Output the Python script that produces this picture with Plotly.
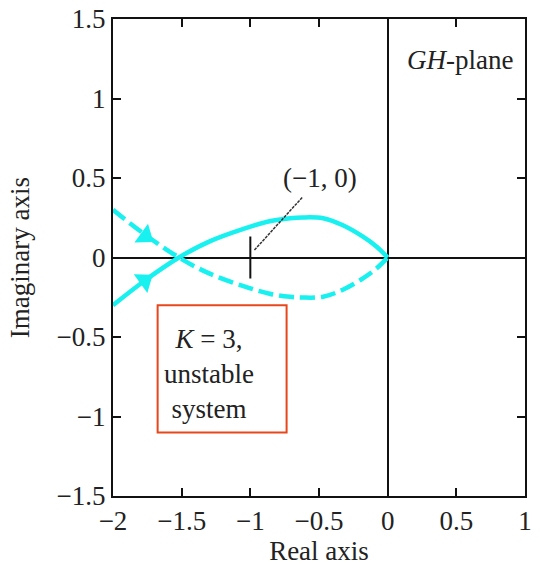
import plotly.graph_objects as go

# Nyquist locus (upper branch, solid)
solid_x = [-2.0, -1.77, -1.52, -1.30, -1.05, -0.86, -0.71, -0.62, -0.47, -0.33, -0.18, -0.08, 0.0]
solid_y = [-0.30, -0.146, 0.0, 0.10, 0.18, 0.228, 0.247, 0.252, 0.247, 0.204, 0.131, 0.068, 0.0]
# mirror branch (dashed)
dash_x = solid_x
dash_y = [-v for v in solid_y]

# direction arrows
arrow_x = [-1.77, -1.765]
arrow_y = [-0.146, 0.135]
arrow_angle = [54, 126]

critical_x = [-1.0]
critical_y = [0.0]
leader_x = [-0.97, -0.62]
leader_y = [0.047, 0.38]

xticks = [-2, -1.5, -1, -0.5, 0, 0.5, 1]
xticktext = ["−2", "−1.5", "−1", "−0.5", "0", "0.5", "1"]
yticks = [-1.5, -1, -0.5, 0, 0.5, 1, 1.5]
yticktext = ["−1.5", "−1", "−0.5", "0", "0.5", "1", "1.5"]

CYAN = "#19F0F0"
FONT = "Liberation Serif"
FS = 27
TXT = "#222222"

fig = go.Figure()
fig.add_trace(go.Scatter(x=solid_x, y=solid_y, mode="lines",
                         line=dict(color=CYAN, width=4.5, shape="spline"),
                         hoverinfo="skip"))
fig.add_trace(go.Scatter(x=dash_x, y=dash_y, mode="lines",
                         line=dict(color=CYAN, width=4.5, shape="spline", dash="15px,6px"),
                         hoverinfo="skip"))
fig.add_trace(go.Scatter(x=arrow_x, y=arrow_y, mode="markers",
                         marker=dict(symbol="triangle-up", size=20, color=CYAN,
                                     angle=arrow_angle, line=dict(width=0)),
                         hoverinfo="skip"))
fig.add_trace(go.Scatter(x=critical_x, y=critical_y, mode="markers",
                         marker=dict(symbol="line-ns", size=30,
                                     line=dict(color="#111111", width=2)),
                         hoverinfo="skip"))
fig.add_trace(go.Scatter(x=leader_x, y=leader_y, mode="lines",
                         line=dict(color="#333333", width=1.5, dash="3px,1px"),
                         hoverinfo="skip"))

fig.add_annotation(x=-0.49, y=0.5, text="(−1, 0)", showarrow=False,
                   font=dict(family=FONT, size=FS, color=TXT))
fig.add_annotation(x=0.525, y=1.245, text="<i>GH</i>-plane", showarrow=False,
                   font=dict(family=FONT, size=FS, color=TXT))
fig.add_annotation(x=-1.30, y=-0.73, text="<i>K</i> = 3,<br>unstable<br>system",
                   showarrow=False, align="center",
                   font=dict(family=FONT, size=FS, color=TXT))
fig.add_shape(type="rect", x0=-1.675, x1=-0.736, y0=-1.10, y1=-0.30,
              line=dict(color="#E8471C", width=2))
# y-axis title
fig.add_annotation(xref="paper", yref="paper", x=-0.185, y=0.5, xanchor="right",
                   yanchor="middle", text="Imaginary axis", textangle=-90,
                   showarrow=False, font=dict(family=FONT, size=FS, color=TXT))

axis_common = dict(showgrid=False, zeroline=True, zerolinecolor="#111111", zerolinewidth=2,
                   showline=True, linecolor="#111111", linewidth=2, mirror="ticks",
                   ticks="inside", ticklen=8, tickwidth=2, tickcolor="#111111",
                   tickfont=dict(family=FONT, size=FS, color=TXT))

fig.update_xaxes(range=[-2, 1], tickvals=xticks, ticktext=xticktext,
                 title=dict(text="Real axis", font=dict(family=FONT, size=FS, color=TXT), standoff=3),
                 **axis_common)
fig.update_yaxes(range=[-1.5, 1.5], tickvals=yticks, ticktext=yticktext, **axis_common)

fig.update_layout(width=540, height=571, showlegend=False,
                  margin=dict(l=113, r=15, t=19, b=75, autoexpand=False),
                  plot_bgcolor="white", paper_bgcolor="white")

fig.write_html("out.html")
